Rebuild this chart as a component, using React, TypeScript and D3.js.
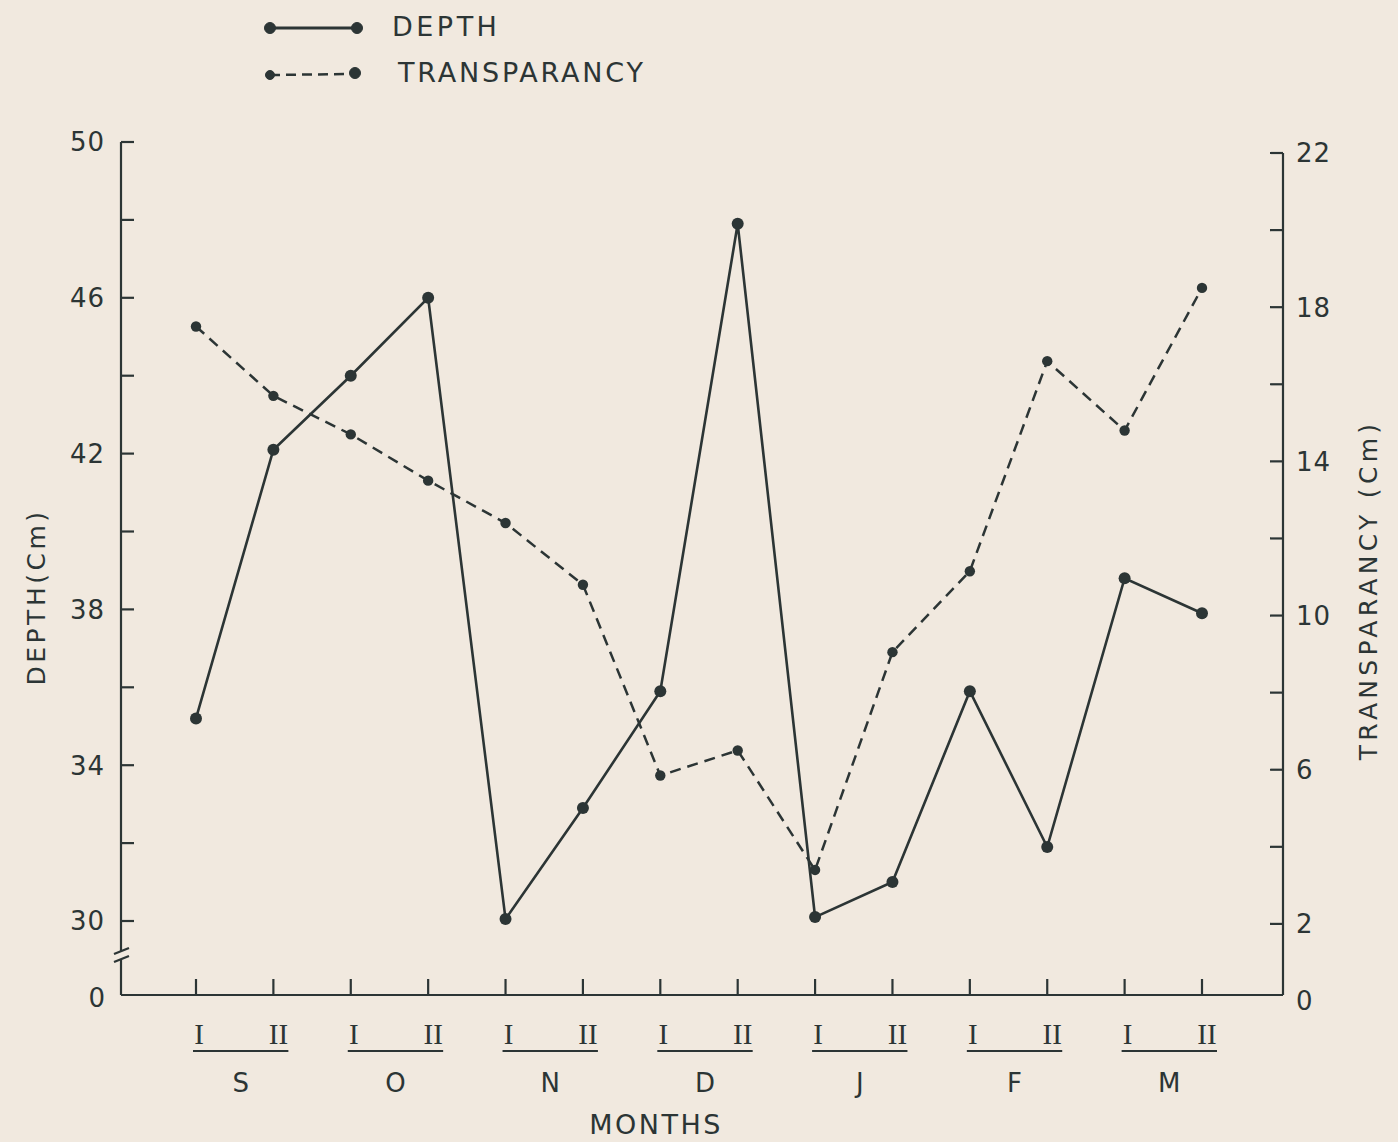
import React from "react";
import * as d3 from "d3";

const periods = ["S-I","S-II","O-I","O-II","N-I","N-II","D-I","D-II","J-I","J-II","F-I","F-II","M-I","M-II"];
const halfLabels = ["I","II","I","II","I","II","I","II","I","II","I","II","I","II"];
const months = ["S","O","N","D","J","F","M"];
const depth = [35.2, 42.1, 44.0, 46.0, 30.05, 32.9, 35.9, 47.9, 30.1, 31.0, 35.9, 31.9, 38.8, 37.9];
const transparency = [17.5, 15.7, 14.7, 13.5, 12.4, 10.8, 5.85, 6.5, 3.4, 9.05, 11.15, 16.6, 14.8, 18.5];
const depthTicks = [30, 34, 38, 42, 46, 50];
const depthMinor = [32, 36, 40, 44, 48];
const transTicks = [0, 2, 6, 10, 14, 18, 22];
const transMinor = [4, 8, 12, 16, 20];

const W = 1398, H = 1142;
const INK = "#2c3535";
const BG = "#f1e9df";
const FONT = "'DejaVu Sans', 'Liberation Sans', sans-serif";
const SERIF = "'Liberation Serif', 'DejaVu Serif', serif";

export default function App() {
  const x = d3.scalePoint<string>().domain(periods).range([196, 1202]);
  const yL = d3.scaleLinear().domain([30, 50]).range([921, 142]);
  const yR = d3.scaleLinear().domain([0, 22]).range([1001, 153]);
  const axisLeftX = 121, axisRightX = 1283, baseY = 995;

  const depthLine = d3.line<number>().x((_, i) => x(periods[i])!).y(d => yL(d));
  const transLine = d3.line<number>().x((_, i) => x(periods[i])!).y(d => yR(d));

  return (
    <svg width={W} height={H} style={{ position: "absolute", left: 0, top: 0, display: "block" }}>
      <rect width={W} height={H} fill={BG} />
      {/* legend */}
      <g stroke={INK} fill={INK}>
        <line x1={270} x2={357} y1={28} y2={28} strokeWidth={3} />
        <circle cx={270} cy={28} r={5.5} />
        <circle cx={357} cy={28} r={5.5} />
        <line x1={270} x2={352} y1={75} y2={74} strokeWidth={2.5} strokeDasharray="10 6" />
        <circle cx={270} cy={75} r={4.5} />
        <circle cx={355} cy={73} r={5.5} />
      </g>
      <text x={392} y={36} fontFamily={FONT} fontSize={27} letterSpacing={3.5} fill={INK}>DEPTH</text>
      <text x={398} y={82} fontFamily={FONT} fontSize={27} letterSpacing={2.8} fill={INK}>TRANSPARANCY</text>

      {/* left axis */}
      <g stroke={INK} strokeWidth={2.2} fill="none">
        <line x1={axisLeftX} x2={axisLeftX} y1={yL(50)} y2={951} />
        <line x1={axisLeftX} x2={axisLeftX} y1={959} y2={baseY} />
        <line x1={114} x2={129} y1={954} y2={948} />
        <line x1={114} x2={129} y1={962} y2={956} />
        {depthTicks.concat(depthMinor).map(t => (
          <line key={"lt" + t} x1={axisLeftX} x2={axisLeftX + 13} y1={yL(t)} y2={yL(t)} />
        ))}
        {/* right axis */}
        <line x1={axisRightX} x2={axisRightX} y1={yR(22)} y2={baseY} />
        {transTicks.filter(t => t > 0).concat(transMinor).map(t => (
          <line key={"rt" + t} x1={axisRightX} x2={axisRightX - 13} y1={yR(t)} y2={yR(t)} />
        ))}
        {/* x axis */}
        <line x1={axisLeftX} x2={axisRightX} y1={baseY} y2={baseY} />
        {periods.map(p => (
          <line key={"xt" + p} x1={x(p)!} x2={x(p)!} y1={baseY} y2={baseY - 16} />
        ))}
      </g>

      {depthTicks.map(t => (
        <text key={"ll" + t} x={105} y={yL(t)} dy="0.36em" textAnchor="end" fontFamily={FONT} fontSize={26} letterSpacing={1} fill={INK}>{t}</text>
      ))}
      <text x={105} y={baseY + 3} dy="0.36em" textAnchor="end" fontFamily={FONT} fontSize={26} fill={INK}>0</text>
      {transTicks.map(t => (
        <text key={"rl" + t} x={1296} y={yR(t)} dy="0.36em" textAnchor="start" fontFamily={FONT} fontSize={26} letterSpacing={1} fill={INK}>{t}</text>
      ))}

      {/* x labels */}
      {periods.map((p, i) => (
        <text key={"hl" + p} x={x(p)! + (i % 2 ? 5 : 3)} y={1034} dy="0.36em" textAnchor="middle"
          fontFamily={SERIF} fontSize={29} fill={INK}>{halfLabels[i]}</text>
      ))}
      {months.map((m, k) => {
        const x1 = x(periods[2 * k])! - 3;
        const x2 = x(periods[2 * k + 1])! + 15;
        return (
          <g key={"m" + m}>
            <line x1={x1} x2={x2} y1={1051} y2={1051} stroke={INK} strokeWidth={2.2} />
            <text x={(x1 + x2) / 2} y={1083} dy="0.36em" textAnchor="middle" fontFamily={FONT} fontSize={26} fill={INK}>{m}</text>
          </g>
        );
      })}
      <text x={656} y={1124} dy="0.36em" textAnchor="middle" fontFamily={FONT} fontSize={27} letterSpacing={2.5} fill={INK}>MONTHS</text>

      {/* axis titles */}
      <text transform={`translate(36,597) rotate(-90)`} textAnchor="middle" dy="0.36em" fontFamily={FONT} fontSize={25} letterSpacing={3.5} fill={INK}>DEPTH(Cm)</text>
      <text transform={`translate(1368,590) rotate(-90)`} textAnchor="middle" dy="0.36em" fontFamily={FONT} fontSize={25} letterSpacing={4.3} fill={INK}>TRANSPARANCY (Cm)</text>

      {/* series */}
      <path d={transLine(transparency)!} fill="none" stroke={INK} strokeWidth={2.5} strokeDasharray="11 7" />
      <path d={depthLine(depth)!} fill="none" stroke={INK} strokeWidth={2.6} />
      {transparency.map((v, i) => (
        <circle key={"tp" + i} cx={x(periods[i])!} cy={yR(v)} r={5.2} fill={INK} />
      ))}
      {depth.map((v, i) => (
        <circle key={"dp" + i} cx={x(periods[i])!} cy={yL(v)} r={6} fill={INK} />
      ))}
    </svg>
  );
}
